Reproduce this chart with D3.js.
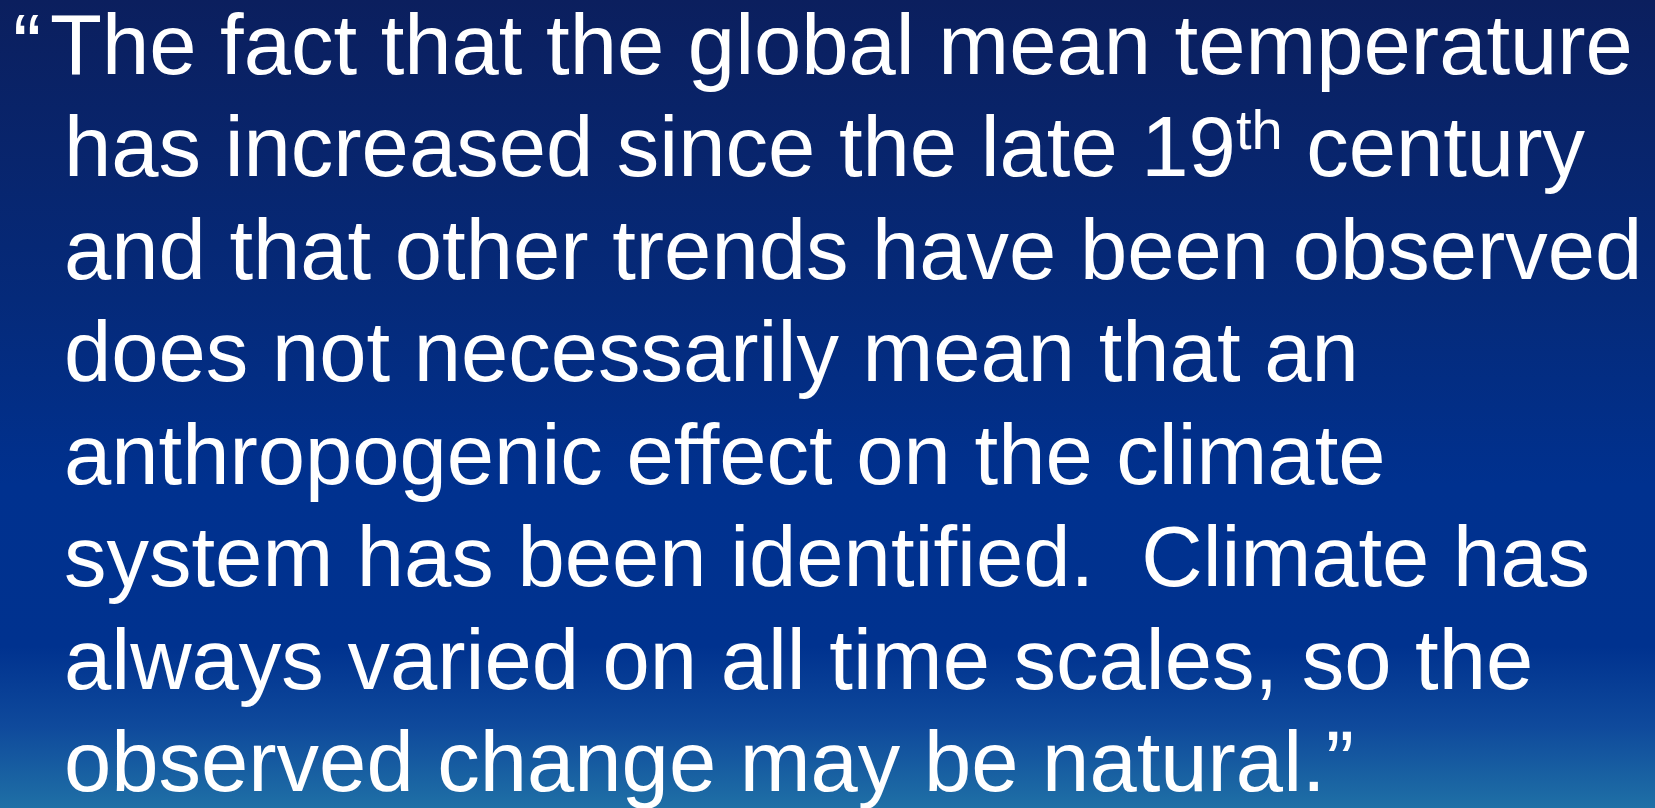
<!DOCTYPE html>
<html lang="en">

<head>
  <meta charset="UTF-8">
  <title>Quote</title>
  <script src="https://d3js.org/d3.v7.min.js"></script>
  <style>
    body { margin: 0; overflow: hidden; }
    text { font-family: "Liberation Sans", Arial, sans-serif; fill: #ffffff; white-space: pre; }
  </style>
</head>

<body>
  <div id="slide"></div>

  <script>

    const width = 1655;
    const height = 808;

    // quote lines; sup marks a superscript piece, lead is the hanging opening quote
    const lines = [
      [{ t: '\u201C', lead: true }, { t: 'The fact that the global mean temperature' }],
      [{ t: 'has increased since the late 19' }, { t: 'th', sup: true }, { t: ' century' }],
      [{ t: 'and that other trends have been observed' }],
      [{ t: 'does not necessarily mean that an' }],
      [{ t: 'anthropogenic effect on the climate' }],
      [{ t: 'system has been identified.  Climate has' }],
      [{ t: 'always varied on all time scales, so the' }],
      [{ t: 'observed change may be natural.\u201D' }]
    ];

    // background colour stops (offset, colour)
    const bgStops = [
      [0, '#0b1f5e'],
      [0.37, '#052a7a'],
      [0.6, '#00318f'],
      [0.8, '#00328f'],
      [0.9, '#0f4a9c'],
      [1, '#1f70a6']
    ];

    const svg = d3.select('#slide')
      .append('svg')
      .attr('width', width)
      .attr('height', height);

    const grad = svg.append('defs')
      .append('linearGradient')
      .attr('id', 'bg')
      .attr('x1', 0).attr('y1', 0)
      .attr('x2', 0).attr('y2', 1);

    grad.selectAll('stop')
      .data(bgStops)
      .enter()
      .append('stop')
      .attr('offset', d => d[0])
      .attr('stop-color', d => d[1]);

    svg.append('rect')
      .attr('width', width)
      .attr('height', height)
      .attr('fill', 'url(#bg)');

    const y = d3.scaleLinear()
      .domain([0, lines.length - 1])
      .range([74, 791]);

    const fontSize = 85;
    const leadX = 13;
    const firstX = 50;
    const indentX = 64;

    const txt = svg.selectAll('.line')
      .data(lines)
      .enter()
      .append('text')
      .attr('class', 'line')
      .attr('x', indentX)
      .attr('y', (d, i) => y(i))
      .style('font-size', fontSize + 'px');

    txt.each(function (d) {
      const t = d3.select(this);
      let raised = false;
      d.forEach((p, k) => {
        const s = t.append('tspan').text(p.t);
        if (p.lead) {
          s.attr('x', leadX);
        } else if (k === 1 && d[0].lead) {
          s.attr('x', firstX);
        }
        if (p.sup) {
          s.attr('dy', -27).style('font-size', '56px');
          raised = true;
        } else if (raised) {
          s.attr('dy', 27);
          raised = false;
        }
      });
    });

  </script>
</body>

</html>
